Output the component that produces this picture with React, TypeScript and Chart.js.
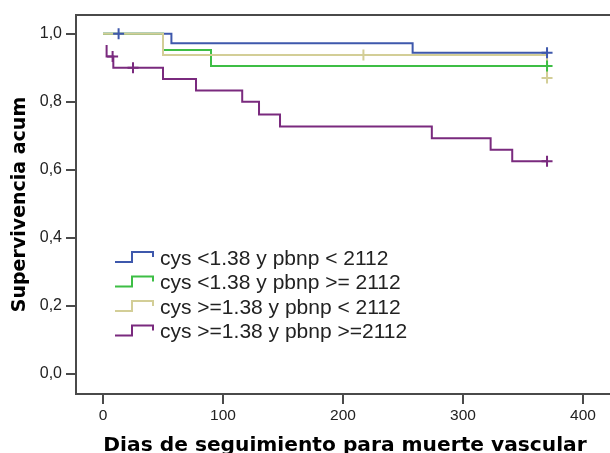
import React, { useEffect, useRef } from 'react';
import { Chart, registerables } from 'chart.js';

Chart.register(...registerables);

// ---- data ----
const xTickValues = [0, 100, 200, 300, 400];
const yTickValues = [0, 0.2, 0.4, 0.6, 0.8, 1.0];

const groupLabels = [
  'cys <1.38 y pbnp < 2112',
  'cys <1.38 y pbnp >= 2112',
  'cys >=1.38 y pbnp < 2112',
  'cys >=1.38 y pbnp >=2112',
];
const groupColors = ['#3E58AC', '#3DBE45', '#D3CE97', '#7A2A7E'];

// step curves: time (days) and cumulative survival after that time
const blueTime = [0, 57, 258, 370];
const blueSurv = [1, 0.9722, 0.9444, 0.9444];
const blueCensorTime = [13, 370];
const blueCensorSurv = [1, 0.9444];

const greenTime = [0, 50, 90, 370];
const greenSurv = [1, 0.952, 0.905, 0.905];
const greenCensorTime = [370];
const greenCensorSurv = [0.905];

const tanTime = [0, 50, 370];
const tanSurv = [1, 0.9375, 0.87];
const tanCensorTime = [217, 370];
const tanCensorSurv = [0.9375, 0.87];

const purpleTime = [3, 3, 8.6, 50, 77.5, 116, 130, 147.5, 274, 323, 341, 370];
const purpleSurv = [0.9667, 0.9333, 0.9, 0.8667, 0.8333, 0.8, 0.7625, 0.7275, 0.693, 0.659, 0.625, 0.625];
const purpleCensorTime = [8, 25, 370];
const purpleCensorSurv = [0.9333, 0.9, 0.625];

const curveTimes = [blueTime, greenTime, tanTime, purpleTime];
const curveSurvs = [blueSurv, greenSurv, tanSurv, purpleSurv];
const censorTimes = [blueCensorTime, greenCensorTime, tanCensorTime, purpleCensorTime];
const censorSurvs = [blueCensorSurv, greenCensorSurv, tanCensorSurv, purpleCensorSurv];

const xTitle = 'Dias de seguimiento para muerte vascular';
const yTitle = 'Supervivencia acum';

const AXIS_COLOR = '#4a4a4a';

const framePlugin = {
  id: 'frame',
  afterDraw(chart: any) {
    const { ctx, chartArea } = chart;
    const { left, top, bottom } = chartArea;
    const right = chart.width + 10;
    ctx.save();
    ctx.strokeStyle = AXIS_COLOR;
    ctx.lineWidth = 2;
    ctx.beginPath();
    ctx.moveTo(right, top);
    ctx.lineTo(left, top);
    ctx.lineTo(left, bottom);
    ctx.lineTo(right, bottom);
    ctx.stroke();
    ctx.restore();
  },
};

const legendPlugin = {
  id: 'kmLegend',
  afterDraw(chart: any) {
    const { ctx } = chart;
    const x0 = 115;
    const y0 = 258;
    const rowH = 24.5;
    ctx.save();
    ctx.font = '21px "Liberation Sans", Arial, sans-serif';
    ctx.textBaseline = 'middle';
    ctx.textAlign = 'left';
    groupLabels.forEach((label, i) => {
      const cy = y0 + i * rowH;
      ctx.strokeStyle = groupColors[i];
      ctx.lineWidth = 2;
      ctx.beginPath();
      ctx.moveTo(x0, cy + 4);
      ctx.lineTo(x0 + 17, cy + 4);
      ctx.lineTo(x0 + 17, cy - 6);
      ctx.lineTo(x0 + 38, cy - 6);
      ctx.lineTo(x0 + 38, cy - 1);
      ctx.stroke();
      ctx.fillStyle = '#222';
      ctx.fillText(label, x0 + 45, cy + 1);
    });
    ctx.restore();
  },
};

export default function App() {
  const canvasRef = useRef<HTMLCanvasElement | null>(null);

  useEffect(() => {
    if (!canvasRef.current) return;
    // first dataset in the array is drawn top-most
    const datasets: any[] = [];
    for (let i = groupLabels.length - 1; i >= 0; i--) {
      datasets.push({
        type: 'line',
        label: groupLabels[i] + ' censurado',
        data: censorTimes[i].map((t, k) => ({ x: t, y: censorSurvs[i][k] })),
        showLine: false,
        pointStyle: 'cross',
        pointRadius: 5.5,
        pointBorderWidth: 2,
        borderColor: groupColors[i],
        backgroundColor: groupColors[i],
      });
    }
    for (let i = groupLabels.length - 1; i >= 0; i--) {
      datasets.push({
        type: 'line',
        label: groupLabels[i],
        data: curveTimes[i].map((t, k) => ({ x: t, y: curveSurvs[i][k] })),
        borderColor: groupColors[i],
        backgroundColor: groupColors[i],
        borderWidth: 2,
        stepped: true,
        pointRadius: 0,
        fill: false,
      });
    }

    const chart = new Chart(canvasRef.current, {
      type: 'line',
      data: { datasets },
      plugins: [framePlugin, legendPlugin],
      options: {
        responsive: false,
        maintainAspectRatio: false,
        devicePixelRatio: 1,
        animation: false,
        layout: { autoPadding: false, padding: { top: 15, left: 0, right: 0, bottom: 0 } },
        plugins: { legend: { display: false }, tooltip: { enabled: false } },
        scales: {
          x: {
            type: 'linear',
            min: -22.5,
            max: 425.8,
            afterBuildTicks: (scale: any) => {
              scale.ticks = xTickValues.map((v) => ({ value: v }));
            },
            afterFit: (scale: any) => {
              scale.height = 59;
              scale.paddingRight = 0;
              scale.paddingLeft = 0;
            },
            border: { display: false },
            grid: {
              drawOnChartArea: false,
              drawTicks: true,
              tickLength: 10,
              lineWidth: 2,
              color: AXIS_COLOR,
            },
            ticks: {
              autoSkip: false,
              maxRotation: 0,
              padding: 2,
              color: '#222',
              font: { family: '"Liberation Sans", Arial, sans-serif', size: 15.5 },
              callback: (v: any) => String(v),
            },
            title: {
              display: true,
              text: xTitle,
              color: '#000',
              font: { family: '"DejaVu Sans", sans-serif', size: 20.2, weight: 'bold' },
              padding: { top: 0, bottom: -4.6 },
            },
          },
          y: {
            type: 'linear',
            min: -0.0588,
            max: 1.055,
            afterBuildTicks: (scale: any) => {
              scale.ticks = yTickValues.map((v) => ({ value: v }));
            },
            afterFit: (scale: any) => {
              scale.width = 76;
              scale.paddingTop = 0;
              scale.paddingBottom = 0;
            },
            border: { display: false },
            grid: {
              drawOnChartArea: false,
              drawTicks: true,
              tickLength: 10,
              lineWidth: 2,
              color: AXIS_COLOR,
            },
            ticks: {
              autoSkip: false,
              padding: 4,
              color: '#222',
              font: { family: '"Liberation Sans", Arial, sans-serif', size: 16 },
              callback: (v: any) => Number(v).toFixed(1).replace('.', ','),
            },
            title: {
              display: true,
              text: yTitle,
              color: '#000',
              font: { family: '"DejaVu Sans", sans-serif', size: 19, weight: 'bold' },
              padding: { top: 9, bottom: 0 },
            },
          },
        },
      },
    });
    return () => chart.destroy();
  }, []);

  return (
    <div
      style={{
        position: 'fixed',
        left: 0,
        top: 0,
        width: 610,
        height: 453,
        overflow: 'hidden',
        background: '#fff',
      }}
    >
      <canvas ref={canvasRef} width={614} height={453} style={{ display: 'block' }} />
    </div>
  );
}
